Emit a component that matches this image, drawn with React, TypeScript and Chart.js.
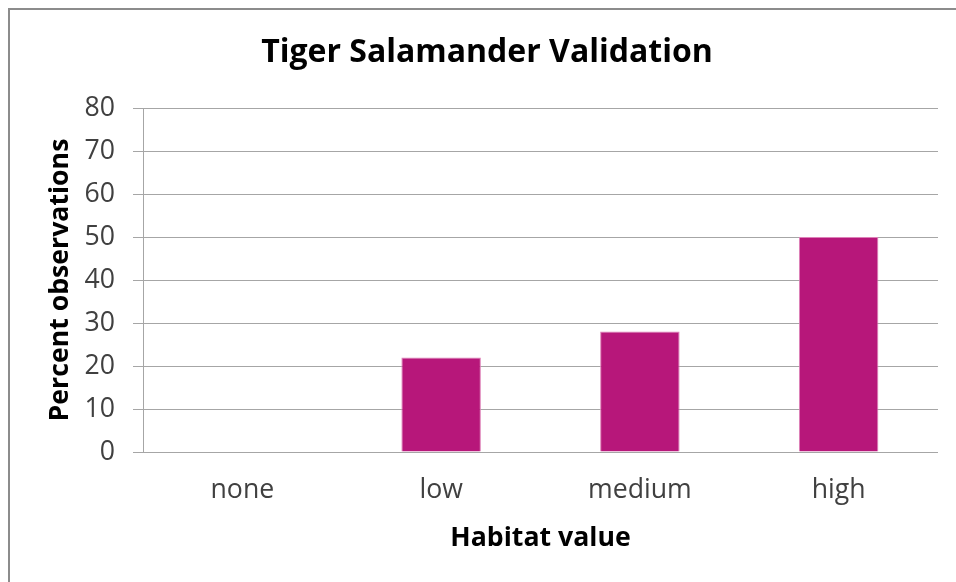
import React, { useEffect, useRef } from "react";
import { Chart, registerables } from "chart.js";

Chart.register(...registerables);

const categories = ["none", "low", "medium", "high"];
const percentObservations = [0, 22, 28, 50];
const yTicksMin = 0;
const yTicksMax = 80;
const yTickStep = 10;

export default function App() {
  const ref = useRef<HTMLCanvasElement | null>(null);

  useEffect(() => {
    if (!ref.current) return;
    const chart = new Chart(ref.current, {
      type: "bar",
      data: {
        labels: categories,
        datasets: [
          {
            label: "Percent observations",
            data: percentObservations,
            backgroundColor: "#B7177A",
            borderColor: "#DE80B8",
            borderWidth: 1,
            categoryPercentage: 1,
            barPercentage: 0.4,
          },
        ],
      },
      options: {
        animation: false,
        responsive: false,
        maintainAspectRatio: false,
        layout: { padding: { left: 26, right: 18, top: 0, bottom: 0 } },
        plugins: {
          legend: { display: false },
          tooltip: { enabled: false },
          title: {
            display: true,
            text: "Tiger Salamander Validation",
            color: "#000000",
            font: { family: "'Open Sans'", size: 32, weight: "bold", lineHeight: 1.2 },
            padding: { top: 24, bottom: 35.6 },
          },
        },
        scales: {
          x: {
            grid: { display: false, drawTicks: false },
            border: { display: false },
            ticks: {
              color: "#404040",
              font: { family: "'Open Sans'", size: 26.67, lineHeight: 1.2 },
              padding: 22,
              maxRotation: 0,
            },
            title: {
              display: true,
              text: "Habitat value",
              color: "#000000",
              font: { family: "'Open Sans'", size: 26.67, weight: "bold", lineHeight: 1.2 },
              padding: { top: 0, bottom: 28 },
            },
            afterFit: (scale: any) => {
              scale.height = 130;
            },
          },
          y: {
            min: yTicksMin,
            max: yTicksMax,
            grid: { color: "#A6A6A6", lineWidth: 1, tickLength: 10, drawTicks: true },
            border: { display: true, color: "#A6A6A6", width: 1 },
            ticks: {
              stepSize: yTickStep,
              color: "#404040",
              font: { family: "'Open Sans'", size: 26.67, lineHeight: 1.2 },
              padding: 18,
            },
            title: {
              display: true,
              text: "Percent observations",
              color: "#000000",
              font: { family: "'Open Sans'", size: 26.67, weight: "bold", lineHeight: 1.2 },
              padding: { top: 8, bottom: 0 },
            },
            afterFit: (scale: any) => {
              scale.width = 107;
            },
          },
        },
      },
    });
    return () => chart.destroy();
  }, []);

  return (
    <div
      style={{
        position: "fixed",
        left: 8,
        top: 8,
        width: 948,
        height: 574,
        borderLeft: "2px solid #8C8C8C",
        borderTop: "2px solid #8C8C8C",
        overflow: "hidden",
        background: "#ffffff",
        boxSizing: "border-box",
      }}
    >
      <canvas ref={ref} width={946} height={572} style={{ display: "block", width: 946, height: 572 }} />
    </div>
  );
}
